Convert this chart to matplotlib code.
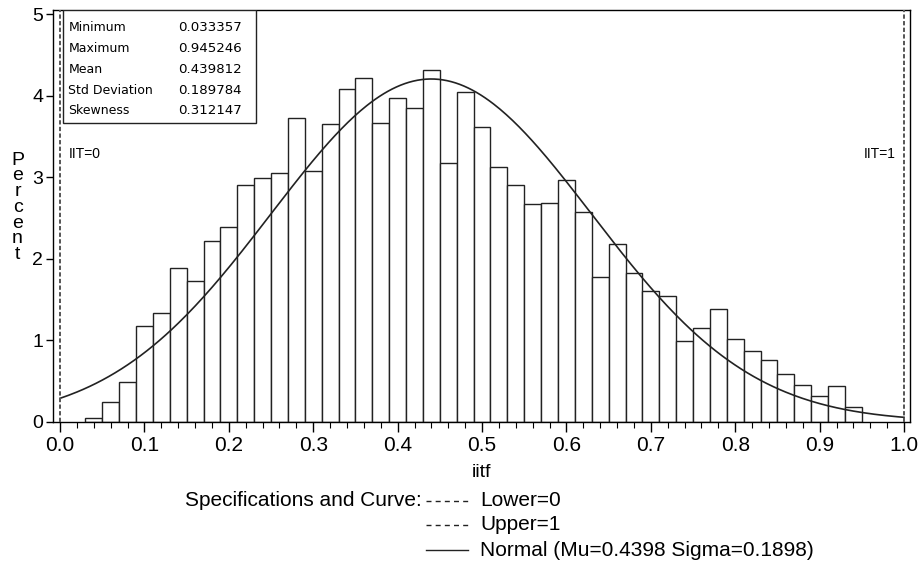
import numpy as np
import matplotlib
matplotlib.use("Agg")
import matplotlib.pyplot as plt
from matplotlib.lines import Line2D
from matplotlib.patches import Rectangle

# histogram of iitf, bin width 0.02 (percent per bin)
bin_mids = [0.04, 0.06, 0.08, 0.10, 0.12, 0.14, 0.16, 0.18, 0.20, 0.22,
            0.24, 0.26, 0.28, 0.30, 0.32, 0.34, 0.36, 0.38, 0.40, 0.42,
            0.44, 0.46, 0.48, 0.50, 0.52, 0.54, 0.56, 0.58, 0.60, 0.62,
            0.64, 0.66, 0.68, 0.70, 0.72, 0.74, 0.76, 0.78, 0.80, 0.82,
            0.84, 0.86, 0.88, 0.90, 0.92, 0.94]
percent = [0.05, 0.24, 0.49, 1.18, 1.33, 1.89, 1.73, 2.22, 2.39, 2.90,
           2.99, 3.05, 3.73, 3.08, 3.65, 4.08, 4.22, 3.66, 3.97, 3.85,
           4.32, 3.17, 4.05, 3.62, 3.12, 2.90, 2.67, 2.68, 2.96, 2.57,
           1.78, 2.18, 1.83, 1.60, 1.54, 0.99, 1.15, 1.38, 1.01, 0.87,
           0.76, 0.58, 0.45, 0.31, 0.44, 0.18]
bin_width = 0.02

# fitted normal and spec limits
mu = 0.4398
sigma = 0.1898
lower, upper = 0, 1

stat_names = ["Minimum", "Maximum", "Mean", "Std Deviation", "Skewness"]
stat_values = ["0.033357", "0.945246", "0.439812", "0.189784", "0.312147"]

plt.rcParams['font.family'] = ['Liberation Sans', 'DejaVu Sans']

fig = plt.figure(figsize=(9.22, 5.65), dpi=100)
ax = fig.add_axes([0.0575, 0.2536, 0.9295, 0.7287])

ax.bar(bin_mids, percent, width=bin_width, color='white', edgecolor='#222222',
       linewidth=1.0, zorder=2)

xs = np.linspace(0, 1, 400)
curve = 100 * bin_width * np.exp(-0.5 * ((xs - mu) / sigma) ** 2) / (sigma * np.sqrt(2 * np.pi))
ax.plot(xs, curve, color='#222222', linewidth=1.2, zorder=3)

for v in (lower, upper):
    ax.axvline(v, color='#555555', linewidth=1.4, linestyle=(0, (2.2, 1.2)), zorder=4)

ax.text(0.0098, 3.28, "IIT=0", fontsize=10, ha='left', va='center')
ax.text(0.9905, 3.28, "IIT=1", fontsize=10, ha='right', va='center')

ax.set_xlim(-0.0083, 1.0071)
ax.set_ylim(0, 5.05)
ax.set_xticks(np.arange(0, 1.01, 0.1))
ax.set_xticks(np.arange(0, 1.001, 0.02), minor=True)
ax.set_xticklabels([f"{t:.1f}" for t in np.arange(0, 1.01, 0.1)])
ax.set_yticks(range(6))
ax.tick_params(axis='x', which='major', direction='out', labelsize=15, length=7, width=1)
ax.tick_params(axis='y', which='major', direction='out', labelsize=14, length=5, width=1, pad=2)
ax.tick_params(axis='x', which='minor', direction='out', length=4, width=0.8)
for s in ax.spines.values():
    s.set_linewidth(1.0)

ax.set_xlabel("iitf", fontsize=14, labelpad=6)
fig.text(0.019, 0.633, "P\ne\nr\nc\ne\nn\nt", fontsize=14, ha='center', va='center',
         linespacing=0.9)

# statistics inset
ax.add_patch(Rectangle((0.0117, 0.725), 0.2253, 0.275, transform=ax.transAxes,
                       facecolor='white', edgecolor='#222222', linewidth=1.0, zorder=5))
for i, (n, v) in enumerate(zip(stat_names, stat_values)):
    yy = 0.958 - i * 0.0508
    ax.text(0.0179, yy, n, transform=ax.transAxes, fontsize=9, va='center',
            family='DejaVu Sans', zorder=6)
    ax.text(0.1462, yy, v, transform=ax.transAxes, fontsize=9.6, va='center',
            family='DejaVu Sans', zorder=6)

# legend under the axis
fig.text(0.457, 0.1138, "Specifications and Curve:", fontsize=15, ha='right', va='center')
rows = [(0.1138, (0, (3.6, 3.0)), "Lower=0"),
        (0.0708, (0, (3.6, 3.0)), "Upper=1"),
        (0.0265, '-', "Normal (Mu=0.4398 Sigma=0.1898)")]
for yy, ls, label in rows:
    fig.add_artist(Line2D([0.462, 0.508], [yy, yy], transform=fig.transFigure,
                          color='#222222', linewidth=1.0, linestyle=ls))
    fig.text(0.5205, yy, label, fontsize=15, ha='left', va='center')

fig.savefig("out.png", dpi=100)
